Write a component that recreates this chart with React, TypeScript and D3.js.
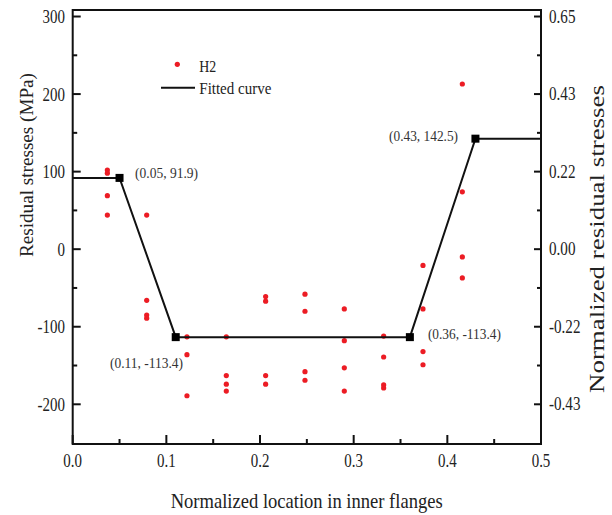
import React from "react";
import * as d3 from "d3";

// ---- data ----
const h2X = [
  0.037, 0.037, 0.037, 0.037,
  0.079, 0.079, 0.079, 0.079,
  0.122, 0.122, 0.122,
  0.164, 0.164, 0.164, 0.164,
  0.206, 0.206, 0.206, 0.206,
  0.248, 0.248, 0.248, 0.248,
  0.29, 0.29, 0.29, 0.29,
  0.332, 0.332, 0.332, 0.332,
  0.374, 0.374, 0.374, 0.374,
  0.416, 0.416, 0.416, 0.416,
];
const h2Y = [
  102, 98, 69, 44,
  44, -66, -85, -89,
  -113, -136, -189,
  -113, -163, -174, -183,
  -61, -67, -163, -174,
  -58, -80, -158, -169,
  -77, -118, -153, -183,
  -112, -139, -175, -179,
  -21, -77, -132, -149,
  213, 74, -10, -37,
];
const fitX = [0, 0.05, 0.11, 0.36, 0.43, 0.5];
const fitY = [91.9, 91.9, -113.4, -113.4, 142.5, 142.5];
const annotText = ["(0.05, 91.9)", "(0.11, -113.4)", "(0.36, -113.4)", "(0.43, 142.5)"];
const xTicks = [0, 0.1, 0.2, 0.3, 0.4, 0.5];
const xMinor = [0.05, 0.15, 0.25, 0.35, 0.45];
const yTicks = [300, 200, 100, 0, -100, -200];
const yMinor = [250, 150, 50, -50, -150];
const rightTickLabels = ["0.65", "0.43", "0.22", "0.00", "-0.22", "-0.43"];
const xTitle = "Normalized location in inner flanges";
const yTitle = "Residual stresses (MPa)";
const y2Title = "Normalized residual stresses";
const legendLabels = ["H2", "Fitted curve"];

const W = 612;
const H = 515;
const FONT = "'Liberation Serif', 'Times New Roman', serif";
const TXT = "#222";
const RED = "#ec1c24";

const x = d3.scaleLinear().domain([0, 0.5]).range([72.7, 541]);
const y = d3.scaleLinear().domain([-251.2, 308.4]).range([444, 10]);

function T({ x: tx, y: ty, size, sx = 1, anchor = "start", children }: any) {
  return (
    <text
      transform={`translate(${tx},${ty}) scale(${sx},1)`}
      fontSize={size}
      fontFamily={FONT}
      fill={TXT}
      textAnchor={anchor}
    >
      {children}
    </text>
  );
}

export default function App() {
  const left = x.range()[0];
  const right = x.range()[1];
  const top = y.range()[1];
  const bottom = y.range()[0];
  const line = d3
    .line<number>()
    .x((_, i) => x(fitX[i]))
    .y((d) => y(d));
  const markers = [1, 2, 3, 4];
  const annOffsets = [
    { dx: 15.5, dy: 0, anchor: "start", len: 63 },
    { dx: -65.7, dy: 31, anchor: "start", len: 73 },
    { dx: 18, dy: 2, anchor: "start", len: 73 },
    { dx: -17.4, dy: 2.5, anchor: "end", len: 69 },
  ];
  return (
    <svg
      width={W}
      height={H}
      style={{ position: "absolute", left: 0, top: 0, background: "#fff" }}
    >
      <rect x={0} y={0} width={W} height={H} fill="#fff" />
      {/* frame */}
      <rect
        x={left}
        y={top}
        width={right - left}
        height={bottom - top}
        fill="none"
        stroke="#111"
        strokeWidth={2}
      />
      {/* x ticks */}
      {xTicks.map((t) => (
        <g key={"xt" + t}>
          <line x1={x(t)} x2={x(t)} y1={bottom} y2={bottom - 9} stroke="#111" strokeWidth={2} />
          <T x={x(t)} y={467} size={18} sx={0.83} anchor="middle">
            {t.toFixed(1)}
          </T>
        </g>
      ))}
      {xMinor.map((t) => (
        <line key={"xm" + t} x1={x(t)} x2={x(t)} y1={bottom} y2={bottom - 5} stroke="#111" strokeWidth={2} />
      ))}
      {/* y ticks left & right */}
      {yTicks.map((t, i) => (
        <g key={"yt" + t}>
          <line x1={left} x2={left + 8} y1={y(t)} y2={y(t)} stroke="#111" strokeWidth={2} />
          <line x1={right} x2={right - 7} y1={y(t)} y2={y(t)} stroke="#111" strokeWidth={2} />
          <T x={65} y={y(t) + 6.5} size={18} sx={0.83} anchor="end">
            {t}
          </T>
          <T x={549} y={y(t) + 6} size={18} sx={0.84} anchor="start">
            {rightTickLabels[i]}
          </T>
        </g>
      ))}
      {yMinor.map((t) => (
        <g key={"ym" + t}>
          <line x1={left} x2={left + 4.5} y1={y(t)} y2={y(t)} stroke="#111" strokeWidth={2} />
          <line x1={right} x2={right - 4} y1={y(t)} y2={y(t)} stroke="#111" strokeWidth={2} />
        </g>
      ))}
      {/* data points */}
      {h2Y.map((v, i) => (
        <circle key={"p" + i} cx={x(h2X[i])} cy={y(v)} r={2.6} fill={RED} />
      ))}
      {/* fitted curve */}
      <path d={line(fitY) || ""} fill="none" stroke="#111" strokeWidth={2} />
      {markers.map((i) => (
        <rect key={"m" + i} x={x(fitX[i]) - 4} y={y(fitY[i]) - 4} width={8} height={8} fill="#000" />
      ))}
      {markers.map((i, k) => {
        const o = annOffsets[k];
        return (
          <text
            key={"a" + i}
            x={x(fitX[i]) + o.dx}
            y={y(fitY[i]) + o.dy}
            fontSize={15}
            fontFamily={FONT}
            fill="#333"
            textAnchor={o.anchor}
            textLength={o.len}
            lengthAdjust="spacingAndGlyphs"
          >
            {annotText[k]}
          </text>
        );
      })}
      {/* legend */}
      <circle cx={177.3} cy={64.3} r={2.6} fill={RED} />
      <text x={199.3} y={72} fontSize={17} fontFamily={FONT} fill={TXT} textLength={17} lengthAdjust="spacingAndGlyphs">
        {legendLabels[0]}
      </text>
      <line x1={161} x2={195} y1={87.7} y2={87.7} stroke="#111" strokeWidth={2} />
      <text x={199.3} y={94} fontSize={17} fontFamily={FONT} fill={TXT} textLength={72} lengthAdjust="spacingAndGlyphs">
        {legendLabels[1]}
      </text>
      {/* axis titles */}
      <text x={170.7} y={508} fontSize={21} fontFamily={FONT} fill={TXT} textLength={272} lengthAdjust="spacingAndGlyphs">
        {xTitle}
      </text>
      <text
        transform="translate(33,257) rotate(-90)"
        fontSize={19}
        fontFamily={FONT}
        fill={TXT}
        textLength={184}
        lengthAdjust="spacingAndGlyphs"
      >
        {yTitle}
      </text>
      <text
        transform="translate(604,393) rotate(-90)"
        fontSize={21}
        fontFamily={FONT}
        fill={TXT}
        textLength={308}
        lengthAdjust="spacingAndGlyphs"
      >
        {y2Title}
      </text>
    </svg>
  );
}
